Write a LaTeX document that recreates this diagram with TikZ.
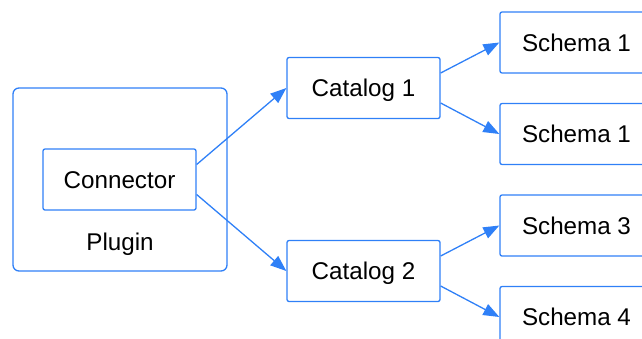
\documentclass[tikz,border=0pt]{standalone}
\usepackage{fontspec}
\setmainfont{Liberation Sans}
\usetikzlibrary{arrows.meta}
\definecolor{lineblue}{HTML}{2F80F7}
\tikzset{
  box/.style={draw=lineblue, line width=1.3pt, rounded corners=2pt, minimum width=153pt, minimum height=61pt, inner sep=0pt},
  outer/.style={draw=lineblue, line width=1.3pt, rounded corners=6pt},
  conn/.style={draw=lineblue, line width=1.3pt, -{Triangle[length=16pt,width=12pt]}},
  lbl/.style={inner sep=0pt, anchor=base, font=\fontsize{24.2}{28}\selectfont}
}
\begin{document}
\begin{tikzpicture}[x=1pt,y=-1pt]
\useasboundingbox (0,0) rectangle (642,338);
\clip (0,0) rectangle (642,338);
\node[outer, minimum width=214pt, minimum height=183pt, inner sep=0pt] (plugin) at (120,179.5) {};
\node[lbl] (pluginlbl) at (120,250) {Plugin};
\node[box] (connector) at (119.5,179.5) {};
\node[lbl] (connlbl) at (119.5,188.5) {Connector};
\node[box] (cat1) at (363.5,88) {};
\node[lbl] (cat1lbl) at (363.5,96.5) {Catalog 1};
\node[box] (cat2) at (363.5,271) {};
\node[lbl] (cat2lbl) at (363.5,279.5) {Catalog 2};
\node[box] (s1) at (576.5,42.5) {};
\node[lbl] (s1lbl) at (576.5,51) {Schema 1};
\node[box] (s2) at (576.5,134) {};
\node[lbl] (s2lbl) at (576.5,142.5) {Schema 1};
\node[box] (s3) at (576.5,225.5) {};
\node[lbl] (s3lbl) at (576.5,234) {Schema 3};
\node[box] (s4) at (576.5,317) {};
\node[lbl] (s4lbl) at (576.5,325.5) {Schema 4};
\draw[conn] ([yshift=15pt]connector.east) -- (cat1.west);
\draw[conn] ([yshift=-15pt]connector.east) -- (cat2.west);
\draw[conn] ([yshift=15pt]cat1.east) -- (s1.west);
\draw[conn] ([yshift=-15pt]cat1.east) -- (s2.west);
\draw[conn] ([yshift=15pt]cat2.east) -- (s3.west);
\draw[conn] ([yshift=-15pt]cat2.east) -- (s4.west);
\end{tikzpicture}
\end{document}
